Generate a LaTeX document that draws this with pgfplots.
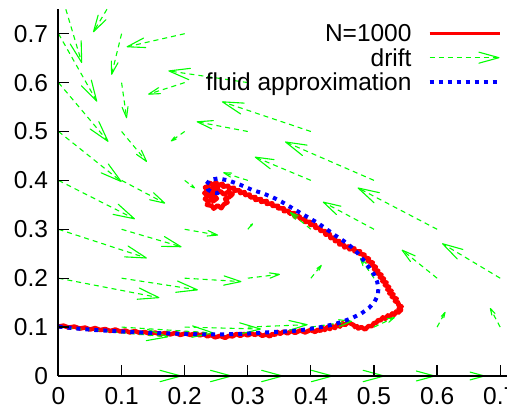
\documentclass[border=0pt]{standalone}
\usepackage{fontspec}
\setmainfont{Liberation Sans}
\usepackage{pgfplots}
\usepackage{pgfplotstable}
\pgfplotsset{compat=1.18}
\usetikzlibrary{arrows.meta}

\definecolor{gpred}{RGB}{255,0,0}
\definecolor{gpgreen}{RGB}{0,255,0}
\definecolor{gpblue}{RGB}{0,0,255}

\pgfplotsset{
    driftlegend/.style={legend image code/.code={%
        \draw[##1,-{Straight Barb[length=20pt,width=11pt,round]}] (0pt,0pt) -- (70pt,0pt);}},
    runlegend/.style={legend image code/.code={%
        \draw[##1,line width=3.3pt] (0pt,0pt) -- (70pt,0pt);}},
}

% drift field: start point, vector, head length (pt)
\pgfplotstableread{
x y u v h
0 0 0.195 0 21
0.1 0 0.175 0 21
0.2 0 0.156 0 21
0.3 0 0.135 0 21
0.4 0 0.117 0 21
0.5 0 0.097 0 18.3
0.6 0 0.076 0 14.4
0.7 0 0.058 0 11
0 0.1 0.174 -0.020 21
0.1 0.1 0.146 -0.012 21
0.2 0.1 0.121 -0.004 21
0.3 0.1 0.095 0.005 18
0.4 0.1 0.065 0.012 12.4
0.5 0.1 0.033 0.020 6.9
0.6 0.1 0.013 0.031 5.2
0.7 0.1 -0.016 0.039 6.5
0 0.2 0.160 -0.040 21
0.1 0.2 0.121 -0.024 21
0.2 0.2 0.090 -0.007 17.1
0.3 0.2 0.051 0.008 9.8
0.4 0.2 0.017 0.027 5.1
0.5 0.2 -0.022 0.041 7.3
0.6 0.2 -0.056 0.058 13.6
0.7 0.2 -0.092 0.071 20.3
0 0.3 0.140 -0.059 21
0.1 0.3 0.095 -0.036 18.8
0.2 0.3 0.053 -0.012 10.2
0.3 0.3 0.008 0.012 2.3
0.4 0.3 -0.033 0.035 8.1
0.5 0.3 -0.081 0.056 17.4
0.6 0.3 -0.126 0.085 21
0 0.4 0.121 -0.079 21
0.1 0.4 0.069 -0.047 14.8
0.2 0.4 0.016 -0.016 3.8
0.3 0.4 -0.039 0.016 7.7
0.4 0.4 -0.089 0.048 18.3
0.5 0.4 -0.141 0.079 21
0 0.5 0.100 -0.103 21
0.1 0.5 0.040 -0.062 11.8
0.2 0.5 -0.022 -0.020 5.1
0.3 0.5 -0.081 0.020 15.6
0.4 0.5 -0.141 0.061 21
0 0.6 0.079 -0.121 21
0.1 0.6 0.008 -0.073 10.8
0.2 0.6 -0.058 -0.024 11.5
0.3 0.6 -0.126 0.024 21
0 0.7 0.061 -0.139 21
0.1 0.7 -0.016 -0.084 12.7
0.2 0.7 -0.092 -0.027 17.9
0.0116 0.75 0.0254 -0.110 21
0.0768 0.75 -0.0218 -0.047 16.6
}\drift

% one simulated run, N=1000
\pgfplotstableread{
x y
0.000 0.101
0.008 0.103
0.016 0.099
0.025 0.101
0.034 0.097
0.042 0.099
0.050 0.095
0.058 0.098
0.066 0.094
0.074 0.096
0.082 0.092
0.090 0.095
0.098 0.091
0.106 0.093
0.113 0.089
0.121 0.092
0.129 0.088
0.137 0.090
0.145 0.086
0.153 0.089
0.161 0.085
0.169 0.088
0.177 0.085
0.185 0.088
0.193 0.084
0.201 0.087
0.209 0.084
0.217 0.087
0.224 0.083
0.230 0.086
0.236 0.081
0.242 0.084
0.248 0.079
0.256 0.082
0.264 0.078
0.270 0.082
0.276 0.081
0.282 0.086
0.288 0.082
0.294 0.086
0.300 0.083
0.306 0.087
0.311 0.084
0.317 0.087
0.323 0.082
0.329 0.085
0.335 0.081
0.339 0.086
0.343 0.084
0.347 0.090
0.351 0.086
0.357 0.091
0.363 0.087
0.369 0.092
0.375 0.088
0.383 0.093
0.391 0.089
0.399 0.094
0.407 0.090
0.411 0.095
0.415 0.092
0.419 0.098
0.422 0.094
0.426 0.100
0.430 0.096
0.434 0.102
0.438 0.098
0.442 0.105
0.446 0.101
0.450 0.108
0.454 0.104
0.459 0.110
0.465 0.106
0.468 0.104
0.470 0.100
0.473 0.102
0.475 0.097
0.480 0.100
0.486 0.095
0.491 0.102
0.497 0.102
0.500 0.109
0.503 0.108
0.507 0.115
0.510 0.113
0.514 0.120
0.518 0.117
0.522 0.124
0.525 0.121
0.529 0.128
0.532 0.125
0.535 0.132
0.538 0.129
0.543 0.135
0.539 0.138
0.544 0.142
0.538 0.145
0.539 0.150
0.533 0.153
0.536 0.158
0.528 0.162
0.531 0.167
0.524 0.169
0.528 0.174
0.521 0.177
0.524 0.182
0.517 0.186
0.520 0.191
0.513 0.194
0.516 0.199
0.509 0.202
0.512 0.207
0.505 0.210
0.507 0.215
0.500 0.218
0.503 0.223
0.496 0.227
0.498 0.232
0.490 0.235
0.492 0.240
0.484 0.243
0.485 0.248
0.477 0.250
0.478 0.255
0.469 0.255
0.469 0.261
0.461 0.259
0.460 0.265
0.453 0.263
0.452 0.269
0.445 0.269
0.445 0.276
0.438 0.276
0.438 0.283
0.431 0.282
0.430 0.290
0.423 0.289
0.423 0.296
0.415 0.297
0.415 0.303
0.407 0.303
0.407 0.309
0.399 0.309
0.399 0.315
0.391 0.315
0.391 0.321
0.383 0.321
0.382 0.327
0.374 0.326
0.374 0.333
0.366 0.332
0.365 0.338
0.357 0.337
0.357 0.343
0.348 0.343
0.348 0.348
0.339 0.348
0.339 0.353
0.330 0.352
0.330 0.358
0.321 0.356
0.321 0.362
0.312 0.360
0.312 0.366
0.304 0.365
0.303 0.371
0.296 0.370
0.295 0.376
0.288 0.374
0.287 0.380
0.279 0.379
0.278 0.385
0.270 0.383
0.269 0.389
0.261 0.387
0.260 0.393
0.252 0.390
0.250 0.396
0.244 0.391
0.240 0.395
0.237 0.388
0.232 0.386
0.236 0.379
0.231 0.374
0.237 0.369
0.232 0.362
0.238 0.357
0.235 0.350
0.243 0.348
0.246 0.342
0.252 0.349
0.258 0.343
0.262 0.351
0.268 0.355
0.264 0.362
0.271 0.366
0.276 0.372
0.268 0.376
0.262 0.371
0.257 0.378
0.250 0.374
0.245 0.381
0.241 0.375
0.246 0.369
0.251 0.363
0.245 0.357
0.242 0.365
0.238 0.378
0.247 0.386
0.256 0.383
}\simu

% fluid approximation (ODE limit)
\pgfplotstableread{
x y
0.000 0.101
0.030 0.097
0.058 0.094
0.087 0.092
0.116 0.090
0.145 0.088
0.174 0.087
0.200 0.086
0.230 0.085
0.259 0.085
0.290 0.086
0.317 0.088
0.340 0.090
0.359 0.091
0.380 0.093
0.396 0.096
0.412 0.099
0.427 0.103
0.440 0.107
0.452 0.112
0.466 0.119
0.480 0.128
0.492 0.139
0.501 0.152
0.506 0.165
0.507 0.179
0.505 0.193
0.500 0.208
0.492 0.222
0.484 0.236
0.475 0.250
0.465 0.263
0.452 0.276
0.438 0.288
0.425 0.300
0.412 0.312
0.396 0.324
0.380 0.336
0.367 0.346
0.354 0.356
0.340 0.365
0.325 0.373
0.306 0.381
0.288 0.391
0.269 0.400
0.253 0.404
0.240 0.401
0.234 0.391
0.237 0.381
0.245 0.375
0.252 0.374
0.255 0.377
}\fluid

\begin{document}
\begin{tikzpicture}
\begin{axis}[
    at={(0,0)}, anchor=origin,
    scale only axis, width=473.25pt, height=366.75pt,
    xmin=0, xmax=0.75, ymin=0, ymax=0.75,
    axis lines=left,
    axis on top,
    axis line style={-, line width=2pt, black},
    xtick={0,0.1,0.2,0.3,0.4,0.5,0.6,0.7},
    ytick={0,0.1,0.2,0.3,0.4,0.5,0.6,0.7},
    tick align=inside,
    major tick length=11pt,
    tick style={line width=1.2pt, black},
    /pgf/number format/assume math mode=true,
    tick label style={font=\fontsize{24.5}{29}\selectfont},
    xticklabel style={yshift=-8pt},
    yticklabel style={xshift=-7pt},
    clip=false,
    legend plot pos=right,
    legend cell align=right,
    legend image code/.code={\draw[#1] (0pt,0pt) -- (70pt,0pt);},
    legend style={at={(axis cs:0.7024,0.7304)}, anchor=north east,
        draw=none, fill=none, inner sep=0pt, row sep=-3.8pt, column sep=16pt,
        nodes={inner sep=0pt, text height=22.8pt, text depth=5.5pt},
        font=\fontsize{24.5}{29}\selectfont},
    ]

    \addplot[gpred, line width=4.5pt, line join=round, runlegend] table {\simu};
    \addlegendentry{N=1000}

    \addplot[gpgreen, line width=1.1pt, dash pattern=on 5pt off 4pt,
        point meta=\thisrow{h}, point meta min=0, point meta max=21,
        quiver={u=\thisrow{u}, v=\thisrow{v},
            every arrow/.append style={
                /utils/exec={\pgfmathsetlengthmacro\hl{\pgfplotspointmetatransformed*0.021}%
                    \pgfmathsetlengthmacro\hw{\pgfplotspointmetatransformed*0.0114}},
                -{Straight Barb[length=\hl,width=\hw,round]}}},
        driftlegend,
        ] table {\drift};
    \addlegendentry{drift}

    \addplot[gpblue, line width=4pt, dash pattern=on 4pt off 5pt] table {\fluid};
    \addlegendentry{fluid approximation}
\end{axis}
\pgfresetboundingbox
\useasboundingbox (-58.5pt,-35pt) rectangle (448.5pt,376pt);
\end{tikzpicture}
\end{document}
